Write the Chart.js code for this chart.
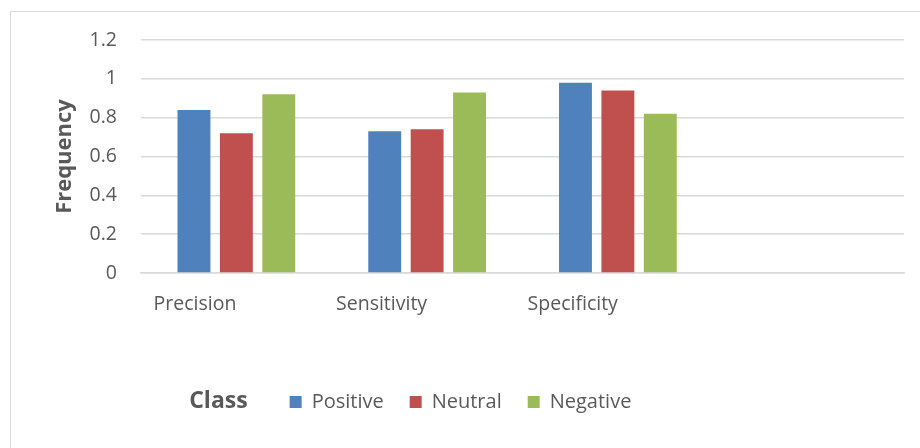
<!DOCTYPE html>
<html>
<head>
<meta charset="utf-8">
<script src="https://cdn.jsdelivr.net/npm/chart.js@4/dist/chart.umd.min.js"></script>
<style>
  html, body { margin: 0; padding: 0; background: #fff; overflow: hidden; }
  #frame { position: absolute; left: 10px; top: 11px; width: 940px; height: 460px; border: 1px solid #d9d9d9; }
  #wrap { position: absolute; left: 0; top: 0; width: 920px; height: 448px; }
</style>
</head>
<body>
<div id="frame"></div>
<div id="wrap"><canvas id="c" width="920" height="448"></canvas></div>
<script>
// Categories (the fourth slot is left empty, as in the source workbook)
const categories = ['Precision', 'Sensitivity', 'Specificity', ''];
const positive = [0.84, 0.73, 0.98, null];
const neutral  = [0.72, 0.74, 0.94, null];
const negative = [0.92, 0.93, 0.82, null];
const yTicks = [0, 0.2, 0.4, 0.6, 0.8, 1, 1.2];
const yTickLabels = ['0', '0.2', '0.4', '0.6', '0.8', '1', '1.2'];
const legendTitle = 'Class';

const FONT = '"Open Sans", "Noto Sans", sans-serif';
const TEXT = '#595959';

// Draws the legend heading to the left of the legend items
const legendHeading = {
  id: 'legendHeading',
  afterDraw(chart) {
    const lg = chart.legend;
    if (!lg || !lg.legendHitBoxes || !lg.legendHitBoxes.length) return;
    const first = lg.legendHitBoxes[0];
    const ctx = chart.ctx;
    ctx.save();
    ctx.font = 'bold 23px ' + FONT;
    ctx.fillStyle = TEXT;
    ctx.textAlign = 'right';
    ctx.textBaseline = 'middle';
    ctx.fillText(legendTitle, first.left - 42, first.top + first.height / 2 - 1);
    ctx.restore();
  }
};

new Chart(document.getElementById('c'), {
  type: 'bar',
  data: {
    labels: categories,
    datasets: [
      { label: 'Positive', data: positive, backgroundColor: '#4F81BD' },
      { label: 'Neutral',  data: neutral,  backgroundColor: '#C0504D' },
      { label: 'Negative', data: negative, backgroundColor: '#9BBB59' }
    ]
  },
  options: {
    responsive: false,
    animation: false,
    devicePixelRatio: 1,
    layout: { padding: { top: 40, right: 16, left: 17, bottom: 26 } },
    datasets: { bar: { categoryPercentage: 0.667, barPercentage: 0.776 } },
    scales: {
      x: {
        grid: { display: false, drawTicks: false },
        border: { display: true, color: '#d9d9d9', width: 1.5 },
        ticks: { align: 'end', padding: 20, color: TEXT, font: { family: FONT, size: 19.5 }, maxRotation: 0, autoSkip: false },
        afterFit(scale) { scale.height = 93; }
      },
      y: {
        min: 0, max: 1.2,
        afterBuildTicks(scale) { scale.ticks = yTicks.map(v => ({ value: v })); },
        grid: { color: '#d9d9d9', lineWidth: 1.5, drawTicks: false },
        border: { display: false },
        ticks: {
          padding: 24, color: TEXT, font: { family: FONT, size: 19.5 },
          callback(value) { const i = yTicks.indexOf(value); return i >= 0 ? yTickLabels[i] : ''; }
        },
        title: { display: true, text: 'Frequency', color: TEXT, font: { family: FONT, size: 22, weight: 'bold' }, padding: { top: 35, bottom: 0 } },
        afterFit(scale) { scale.width = 124; }
      }
    },
    plugins: {
      legend: {
        position: 'bottom',
        labels: { boxWidth: 12, boxHeight: 12, padding: 26, color: TEXT, font: { family: FONT, size: 20 } }
      },
      tooltip: { enabled: false }
    }
  },
  plugins: [legendHeading]
});
</script>
</body>
</html>
